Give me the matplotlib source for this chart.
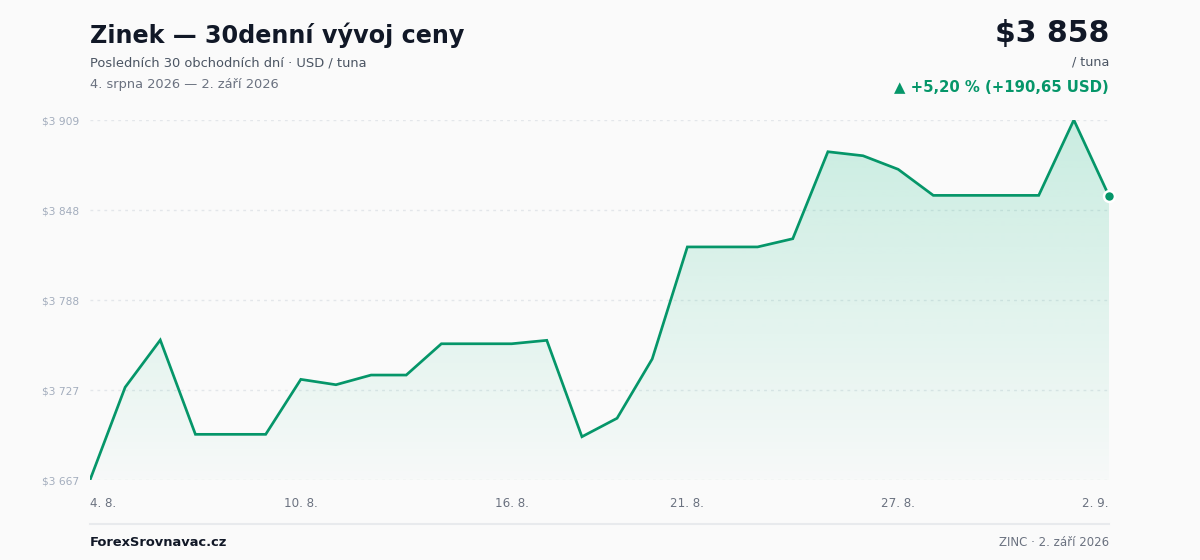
import numpy as np
import matplotlib
matplotlib.use("Agg")
import matplotlib.pyplot as plt
from matplotlib.patches import PathPatch
from matplotlib.colors import to_rgb

# ---- data ----
dates = ["4. 8.", "5. 8.", "6. 8.", "7. 8.", "8. 8.", "9. 8.", "10. 8.", "11. 8.", "12. 8.", "13. 8.",
         "14. 8.", "15. 8.", "16. 8.", "17. 8.", "18. 8.", "19. 8.", "20. 8.", "21. 8.", "22. 8.", "23. 8.",
         "24. 8.", "25. 8.", "26. 8.", "27. 8.", "28. 8.", "29. 8.", "30. 8.", "31. 8.", "1. 9.", "2. 9."]
prices = [3667.35, 3729.6, 3761.3, 3698.0, 3698.0, 3698.0, 3734.9, 3731.3, 3737.8, 3737.8,
          3758.8, 3758.8, 3758.8, 3761.1, 3696.4, 3708.8, 3748.6, 3823.8, 3823.8, 3823.8,
          3829.3, 3887.7, 3885.0, 3875.9, 3858.4, 3858.4, 3858.4, 3858.4, 3909.0, 3858.00]
xtick_labels = ["4. 8.", "10. 8.", "16. 8.", "21. 8.", "27. 8.", "2. 9."]
ytick_labels = ["$3 667", "$3 727", "$3 788", "$3 848", "$3 909"]

title = "Zinek — 30denní vývoj ceny"
subtitle = "Posledních 30 obchodních dní · USD / tuna"
date_range = "4. srpna 2026 — 2. září 2026"
price_text = "$3 858"
unit_text = "/ tuna"
change_text = "▲ +5,20 % (+190,65 USD)"
brand = "ForexSrovnavac.cz"
footer_right = "ZINC · 2. září 2026"

# ---- style ----
BG = "#fafafa"
LINE = "#059669"
FILL = "#10b981"
W, H = 1200, 560
plt.rcParams['font.family'] = ['DejaVu Sans']

fig = plt.figure(figsize=(12, 5.6), dpi=100, facecolor=BG)
L, R, T, B = 90, 1109, 120, 480
ax = fig.add_axes([L / W, 1 - B / H, (R - L) / W, (B - T) / H])
ax.set_facecolor(BG)

x = np.arange(len(prices))
y = np.array(prices)
ymin, ymax = y.min(), y.max()
ax.set_xlim(0, len(prices) - 1)
ax.set_ylim(ymin, ymax)

# gradient fill (bottom faint -> top stronger)
poly = ax.fill_between(x, y, ymin, color="none", lw=0)
path = poly.get_paths()[0]
rgb = to_rgb(FILL)
grad = np.zeros((256, 1, 4))
grad[:, 0, :3] = rgb
grad[:, 0, 3] = np.linspace(0.015, 0.21, 256)  # row 0 = bottom
im = ax.imshow(grad, aspect="auto", extent=[0, len(prices) - 1, ymin, ymax],
               origin="lower", zorder=1, interpolation="bilinear")
patch = PathPatch(path, transform=ax.transData, facecolor="none", edgecolor="none")
ax.add_patch(patch)
im.set_clip_path(patch)

ax.plot(x, y, color=LINE, lw=1.95, zorder=3, solid_joinstyle="miter")
ax.scatter([x[-1]], [y[-1]], s=62, color=LINE, edgecolor="white", linewidth=1.8, zorder=4, clip_on=False)

# grid
yt = np.linspace(ymin, ymax, 5)
for v in yt:
    ax.axhline(v, color="#e3e6ea", lw=1, ls=(0, (2, 3)), zorder=0.5)
ax.set_yticks(yt)
ax.set_yticklabels(ytick_labels, fontsize=7.7, color="#a3adbd")
ax.tick_params(axis="y", length=0, pad=8)

xt_idx = [dates.index(d) for d in xtick_labels]
ax.set_xticks(xt_idx)
ax.set_xticklabels(xtick_labels, fontsize=8.6, color="#6b7280")
ax.tick_params(axis="x", length=0, pad=12)
labs = ax.get_xticklabels()
labs[0].set_ha("left")
labs[-1].set_ha("right")

for s in ax.spines.values():
    s.set_visible(False)

def fy(py):
    return 1 - py / H

def fx(px):
    return px / W

# header
fig.text(fx(90), fy(42.5), title, fontsize=17.2, fontweight="bold", color="#111827", va="baseline", ha="left")
fig.text(fx(90), fy(66), subtitle, fontsize=9.4, color="#4b5563", va="baseline", ha="left")
fig.text(fx(90), fy(88), date_range, fontsize=9.4, color="#6b7280", va="baseline", ha="left")
fig.text(fx(1109), fy(42.3), price_text, fontsize=21.5, fontweight="bold", color="#111827", va="baseline", ha="right")
fig.text(fx(1109), fy(65.5), unit_text, fontsize=9.2, color="#4b5563", va="baseline", ha="right")
fig.text(fx(1109), fy(92), change_text, fontsize=10.75, fontweight="bold", color=LINE, va="baseline", ha="right")

# footer
fig.add_artist(plt.Line2D([fx(90), fx(1109)], [fy(523.5), fy(523.5)], color="#e8eaed", lw=1.5))
fig.text(fx(90), fy(546), brand, fontsize=9.4, fontweight="bold", color="#111827", va="baseline", ha="left")
fig.text(fx(1109), fy(546), footer_right, fontsize=8.5, color="#6b7280", va="baseline", ha="right")

fig.savefig("out.png", dpi=100, facecolor=BG)
